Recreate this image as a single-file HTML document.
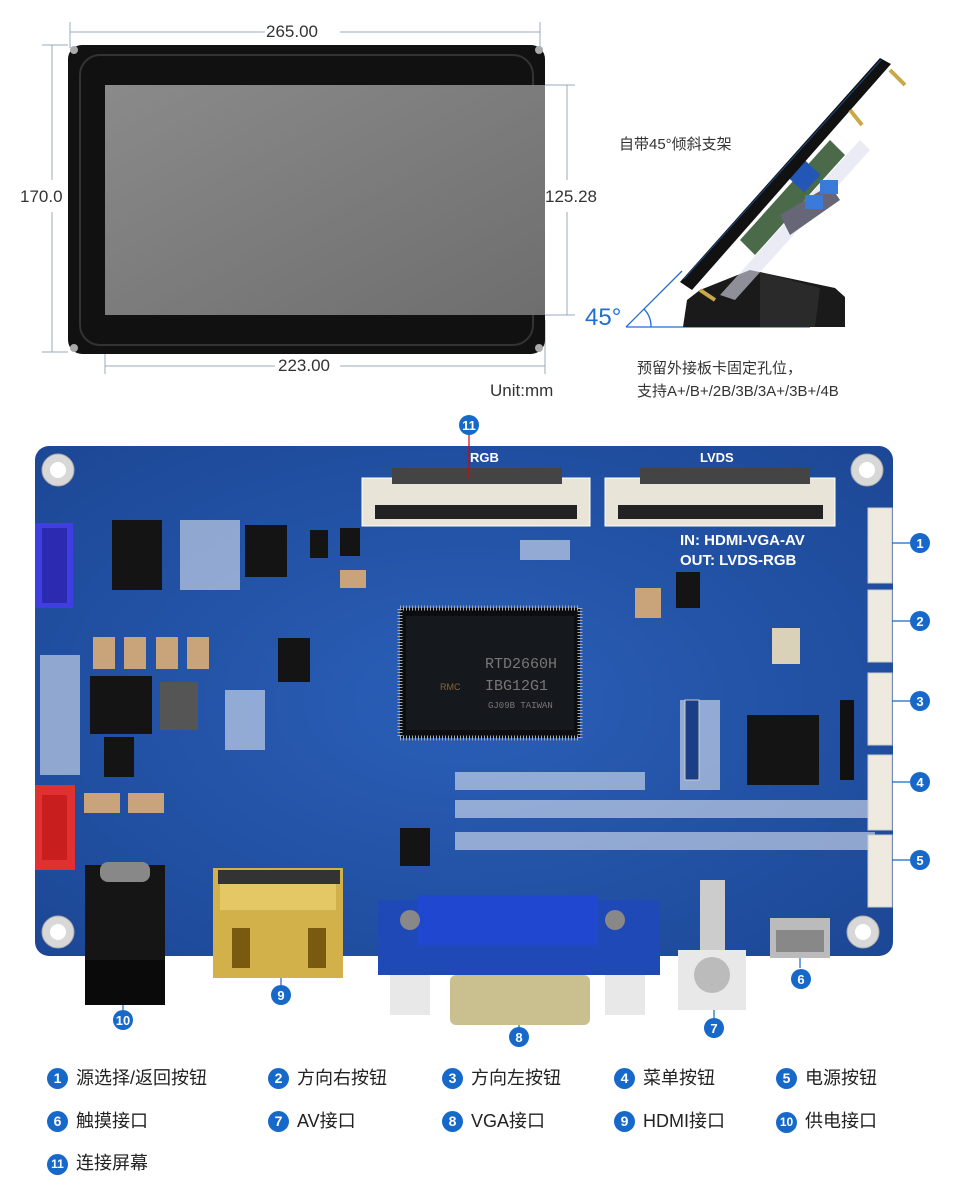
<!DOCTYPE html>
<html><head><meta charset="utf-8"><style>
html,body{margin:0;padding:0;background:#fff;}
body{width:960px;height:1181px;position:relative;overflow:hidden;font-family:"Liberation Sans","Noto Sans CJK SC",sans-serif;}
.t{position:absolute;color:#333;font-size:17px;white-space:nowrap;}
.lg{position:absolute;font-size:18px;color:#222;white-space:nowrap;}
.n{display:inline-block;width:21px;height:21px;border-radius:50%;background:#1668c9;color:#fff;font-size:14px;text-align:center;line-height:21px;margin-right:8px;vertical-align:1px;font-weight:bold;}
</style></head><body>
<svg width="960" height="1181" style="position:absolute;left:0;top:0" xmlns="http://www.w3.org/2000/svg">
<defs>
<linearGradient id="scr" x1="0" y1="0" x2="1" y2="1"><stop offset="0" stop-color="#8a8a8a"/><stop offset="1" stop-color="#6e6e6e"/></linearGradient>
<radialGradient id="pcb" cx="0.5" cy="0.5" r="0.7"><stop offset="0" stop-color="#2a5fb8"/><stop offset="1" stop-color="#1c4795"/></radialGradient>
</defs>
<!-- dimension lines -->
<g stroke="#9ab" stroke-width="1" fill="none">
<line x1="70" y1="32" x2="265" y2="32"/><line x1="340" y1="32" x2="540" y2="32"/>
<line x1="70" y1="22" x2="70" y2="48"/><line x1="540" y1="22" x2="540" y2="48"/>
<line x1="52" y1="45" x2="52" y2="180"/><line x1="52" y1="212" x2="52" y2="352"/>
<line x1="42" y1="45" x2="68" y2="45"/><line x1="42" y1="352" x2="68" y2="352"/>
<line x1="567" y1="85" x2="567" y2="180"/><line x1="567" y1="212" x2="567" y2="315"/>
<line x1="545" y1="85" x2="575" y2="85"/><line x1="545" y1="315" x2="575" y2="315"/>
<line x1="105" y1="366" x2="275" y2="366"/><line x1="340" y1="366" x2="545" y2="366"/>
<line x1="105" y1="320" x2="105" y2="374"/><line x1="545" y1="320" x2="545" y2="374"/>
</g>
<!-- display -->
<rect x="68" y="45" width="477" height="309" rx="14" fill="#111"/>
<rect x="80" y="55" width="453" height="290" rx="20" fill="none" stroke="#333" stroke-width="2"/>
<rect x="105" y="85" width="440" height="230" fill="url(#scr)"/>
<circle cx="74" cy="50" r="4" fill="#aaa"/><circle cx="539" cy="50" r="4" fill="#aaa"/>
<circle cx="74" cy="348" r="4" fill="#aaa"/><circle cx="539" cy="348" r="4" fill="#aaa"/>
<!-- side view -->
<line x1="626" y1="327" x2="810" y2="327" stroke="#1f6fd1" stroke-width="1.3"/>
<line x1="626" y1="327" x2="682" y2="271" stroke="#1f6fd1" stroke-width="1.3"/>
<path d="M651 327 A25 25 0 0 0 644 309" fill="none" stroke="#1f6fd1" stroke-width="1.3"/>
<polygon points="683,327 687,300 700,290 750,270 835,288 845,297 845,327" fill="#1a1a1a"/>
<polygon points="760,272 820,288 815,327 760,327" fill="#2a2a2a"/>
<polygon points="720,295 860,140 870,150 735,300" fill="#dde" opacity="0.6"/>
<polygon points="740,240 830,140 845,155 755,255" fill="#4a6a4a"/>
<rect x="790" y="160" width="24" height="28" fill="#2456b8" transform="rotate(-47 802 174)"/>
<polygon points="780,215 830,185 840,200 790,235" fill="#667"/>
<rect x="805" y="195" width="18" height="14" fill="#3a7ad8"/><rect x="820" y="180" width="18" height="14" fill="#3a7ad8"/>
<polygon points="680,282 880,58 891,64 692,290" fill="#111"/>
<line x1="684" y1="279" x2="881" y2="60" stroke="#1f6fd1" stroke-width="1" opacity="0.6"/>
<line x1="700" y1="290" x2="715" y2="300" stroke="#c9a84a" stroke-width="4"/>
<line x1="850" y1="110" x2="862" y2="125" stroke="#c9a84a" stroke-width="4"/>
<line x1="890" y1="70" x2="905" y2="85" stroke="#c9a84a" stroke-width="4"/>
<!-- PCB -->
<rect x="35" y="446" width="858" height="510" rx="14" fill="url(#pcb)"/>
<g fill="#d8d8d8" stroke="#aaa">
<circle cx="58" cy="470" r="16"/><circle cx="867" cy="470" r="16"/><circle cx="58" cy="932" r="16"/><circle cx="863" cy="932" r="16"/>
</g>
<g fill="#fff"><circle cx="58" cy="470" r="8"/><circle cx="867" cy="470" r="8"/><circle cx="58" cy="932" r="8"/><circle cx="863" cy="932" r="8"/></g>
<!-- connectors top -->
<rect x="362" y="478" width="228" height="48" fill="#e9e4d8" stroke="#fff"/>
<rect x="375" y="505" width="202" height="14" fill="#222"/>
<rect x="392" y="468" width="170" height="16" fill="#444"/>
<rect x="605" y="478" width="230" height="48" fill="#e9e4d8" stroke="#fff"/>
<rect x="618" y="505" width="205" height="14" fill="#222"/>
<rect x="640" y="468" width="170" height="16" fill="#444"/>
<text x="470" y="462" font-size="13" font-weight="bold" fill="#fff" font-family="Liberation Sans">RGB</text>
<text x="700" y="462" font-size="13" font-weight="bold" fill="#fff" font-family="Liberation Sans">LVDS</text>
<text x="680" y="545" font-size="15" font-weight="bold" fill="#fff" font-family="Liberation Sans">IN: HDMI-VGA-AV</text>
<text x="680" y="565" font-size="15" font-weight="bold" fill="#fff" font-family="Liberation Sans">OUT: LVDS-RGB</text>
<!-- main chip -->
<rect x="400" y="608" width="180" height="130" fill="#0b0d10" stroke="#aaa" stroke-width="5" stroke-dasharray="1 2"/>
<rect x="406" y="616" width="168" height="114" fill="#15181c"/>
<text x="485" y="668" font-size="15" fill="#777" font-family="Liberation Mono">RTD2660H</text>
<text x="485" y="690" font-size="15" fill="#777" font-family="Liberation Mono">IBG12G1</text>
<text x="488" y="708" font-size="9" fill="#777" font-family="Liberation Mono">GJ09B TAIWAN</text>
<text x="440" y="690" font-size="9" fill="#886633" font-family="Liberation Sans">RMC</text>
<!-- other chips -->
<g fill="#141414">
<rect x="112" y="520" width="50" height="70"/><rect x="245" y="525" width="42" height="52"/><rect x="278" y="638" width="32" height="44"/>
<rect x="90" y="676" width="62" height="58"/><rect x="104" y="737" width="30" height="40"/><rect x="400" y="828" width="30" height="38"/>
<rect x="747" y="715" width="72" height="70"/><rect x="676" y="572" width="24" height="36"/><rect x="340" y="528" width="20" height="28"/><rect x="310" y="530" width="18" height="28"/>
</g>
<rect x="160" y="682" width="38" height="48" fill="#555"/>
<g fill="#c9a37a">
<rect x="93" y="637" width="22" height="32"/><rect x="124" y="637" width="22" height="32"/><rect x="156" y="637" width="22" height="32"/><rect x="187" y="637" width="22" height="32"/>
<rect x="84" y="793" width="36" height="20"/><rect x="128" y="793" width="36" height="20"/><rect x="635" y="588" width="26" height="30"/><rect x="340" y="570" width="26" height="18"/>
</g>
<!-- small component rows -->
<g fill="#fff" opacity="0.5">
<rect x="455" y="772" width="190" height="18"/><rect x="455" y="800" width="420" height="18"/><rect x="455" y="832" width="420" height="18"/>
<rect x="180" y="520" width="60" height="70"/><rect x="40" y="655" width="40" height="120"/><rect x="225" y="690" width="40" height="60"/>
<rect x="680" y="700" width="40" height="90"/><rect x="520" y="540" width="50" height="20"/>
</g>
<rect x="772" y="628" width="28" height="36" fill="#d9d2b8"/>
<rect x="840" y="700" width="14" height="80" fill="#111"/>
<rect x="685" y="700" width="14" height="80" fill="#1a3f86" stroke="#ccc"/>
<!-- J7 blue connector -->
<rect x="35" y="523" width="38" height="85" fill="#3f3ee0"/><rect x="42" y="528" width="25" height="75" fill="#2b2ab0"/>
<!-- red connector -->
<rect x="35" y="785" width="40" height="85" fill="#e03030"/><rect x="42" y="795" width="25" height="65" fill="#c81e1e"/>
<!-- buttons right -->
<g fill="#eeeae0" stroke="#ccc">
<rect x="868" y="508" width="24" height="75"/><rect x="868" y="590" width="24" height="72"/><rect x="868" y="673" width="24" height="72"/><rect x="868" y="755" width="24" height="75"/><rect x="868" y="835" width="24" height="72"/>
</g>
<!-- power jack -->
<rect x="85" y="865" width="80" height="140" fill="#151515"/><rect x="85" y="960" width="80" height="45" fill="#0a0a0a"/>
<rect x="100" y="862" width="50" height="20" rx="8" fill="#888"/>
<!-- HDMI -->
<rect x="213" y="868" width="130" height="110" fill="#d2b04a"/><rect x="220" y="880" width="116" height="30" fill="#e4c866"/>
<rect x="232" y="928" width="18" height="40" fill="#7a5a10"/><rect x="308" y="928" width="18" height="40" fill="#7a5a10"/>
<rect x="218" y="870" width="122" height="14" fill="#333"/>
<!-- VGA -->
<rect x="378" y="900" width="282" height="75" fill="#2049b8"/>
<rect x="418" y="895" width="180" height="50" fill="#1f47d0"/>
<rect x="450" y="975" width="140" height="50" rx="6" fill="#c9bf8f"/>
<rect x="390" y="975" width="40" height="40" fill="#e8e8e8"/><rect x="605" y="975" width="40" height="40" fill="#e8e8e8"/>
<circle cx="410" cy="920" r="10" fill="#888"/><circle cx="615" cy="920" r="10" fill="#888"/>
<!-- AV -->
<rect x="678" y="950" width="68" height="60" fill="#e8e8e8"/><circle cx="712" cy="975" r="18" fill="#bbb"/>
<rect x="700" y="880" width="25" height="70" fill="#ccc"/>
<!-- micro usb -->
<rect x="770" y="918" width="60" height="40" fill="#bbb"/><rect x="776" y="930" width="48" height="22" fill="#888"/>
<!-- callout lines -->
<g stroke="#1668c9" stroke-width="1.2">
<line x1="892" y1="543" x2="910" y2="543"/><line x1="892" y1="621" x2="910" y2="621"/><line x1="892" y1="701" x2="910" y2="701"/><line x1="892" y1="782" x2="910" y2="782"/><line x1="892" y1="860" x2="910" y2="860"/>
<line x1="469" y1="434" x2="469" y2="478" stroke="#d00"/>
<line x1="281" y1="978" x2="281" y2="985"/><line x1="519" y1="1025" x2="519" y2="1030"/><line x1="714" y1="1010" x2="714" y2="1018"/><line x1="800" y1="958" x2="800" y2="968"/><line x1="123" y1="1005" x2="123" y2="1010"/>
</g>
<g fill="#1668c9">
<circle cx="469" cy="425" r="10"/><circle cx="920" cy="543" r="10"/><circle cx="920" cy="621" r="10"/><circle cx="920" cy="701" r="10"/><circle cx="920" cy="782" r="10"/><circle cx="920" cy="860" r="10"/>
<circle cx="801" cy="979" r="10"/><circle cx="714" cy="1028" r="10"/><circle cx="519" cy="1037" r="10"/><circle cx="281" cy="995" r="10"/><circle cx="123" cy="1020" r="10"/>
</g>
<g fill="#fff" font-size="13" font-weight="bold" text-anchor="middle" font-family="Liberation Sans">
<text x="469" y="430">11</text><text x="920" y="548">1</text><text x="920" y="626">2</text><text x="920" y="706">3</text><text x="920" y="787">4</text><text x="920" y="865">5</text>
<text x="801" y="984">6</text><text x="714" y="1033">7</text><text x="519" y="1042">8</text><text x="281" y="1000">9</text><text x="123" y="1025">10</text>
</g>
</svg>
<div class="t" style="left:266px;top:22px">265.00</div>
<div class="t" style="left:20px;top:187px">170.0</div>
<div class="t" style="left:545px;top:187px">125.28</div>
<div class="t" style="left:278px;top:356px">223.00</div>
<div class="t" style="left:490px;top:381px">Unit:mm</div>
<div class="t" style="left:619px;top:133px;font-size:15px">自带45°倾斜支架</div>
<div class="t" style="left:585px;top:304px;font-size:24px;color:#1f6fd1">45°</div>
<div class="t" style="left:637px;top:357px;font-size:15px">预留外接板卡固定孔位，</div>
<div class="t" style="left:637px;top:380px;font-size:15px">支持A+/B+/2B/3B/3A+/3B+/4B</div>
<div class="lg" style="left:47px;top:1064px"><span class="n">1</span>源选择/返回按钮</div>
<div class="lg" style="left:268px;top:1064px"><span class="n">2</span>方向右按钮</div>
<div class="lg" style="left:442px;top:1064px"><span class="n">3</span>方向左按钮</div>
<div class="lg" style="left:614px;top:1064px"><span class="n">4</span>菜单按钮</div>
<div class="lg" style="left:776px;top:1064px"><span class="n">5</span>电源按钮</div>
<div class="lg" style="left:47px;top:1107px"><span class="n">6</span>触摸接口</div>
<div class="lg" style="left:268px;top:1107px"><span class="n">7</span>AV接口</div>
<div class="lg" style="left:442px;top:1107px"><span class="n">8</span>VGA接口</div>
<div class="lg" style="left:614px;top:1107px"><span class="n">9</span>HDMI接口</div>
<div class="lg" style="left:776px;top:1107px"><span class="n" style="font-size:12px">10</span>供电接口</div>
<div class="lg" style="left:47px;top:1149px"><span class="n" style="font-size:12px">11</span>连接屏幕</div>
</body></html>
